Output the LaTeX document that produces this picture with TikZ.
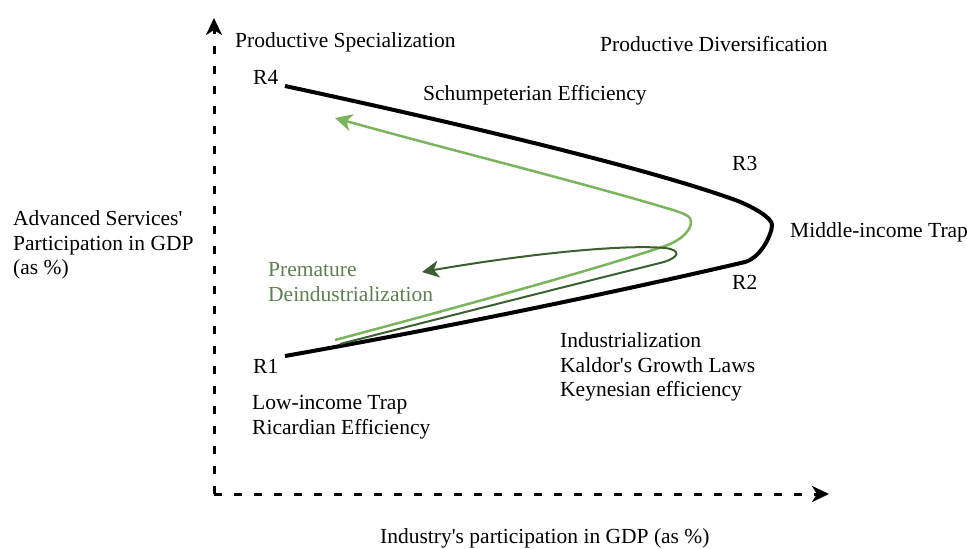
\documentclass[tikz,border=0pt]{standalone}
\usepackage{fontspec}
\setmainfont{Liberation Serif}
\usetikzlibrary{arrows.meta}
\definecolor{lightgreen}{RGB}{122,180,92}
\definecolor{darkgreen}{RGB}{58,96,48}
\definecolor{textgreen}{RGB}{94,128,80}
\begin{document}
\begin{tikzpicture}[x=1pt, y=-1pt,
    lbl/.style={anchor=west, inner sep=0pt, align=left, font=\fontsize{21.5}{24.5}\selectfont},
    axis/.style={line width=3pt, dash pattern=on 8pt off 12pt, -{Stealth[length=17pt,width=16pt,inset=5pt]}},
    tip/.style={-{Stealth[length=17pt,width=17pt,inset=5pt]}}]
      \useasboundingbox (0,0) rectangle (967,549);
      \coordinate (o) at (214,494);
      \coordinate (ytip) at (214,18);
      \coordinate (xtip) at (829,494);
      \draw[axis] (o) -- (ytip);
      \draw[axis] (o) -- (xtip);
      \coordinate (r1pt) at (285,356);
      \coordinate (r4pt) at (285,86);
      \coordinate (vertex) at (772,225);
      \draw[line width=4pt] (r1pt) .. controls (500,318) and (690,275) .. (745,262)
        .. controls (762,257) and (772,233) .. (vertex)
        .. controls (772,218) and (755,208) .. (738,201)
        .. controls (640,165) and (420,115) .. (r4pt);
      \coordinate (gstart) at (335,340);
      \coordinate (gend) at (335,118);
      \draw[lightgreen, line width=2.5pt, tip] (gstart) .. controls (470,304) and (600,268) .. (665,246)
        .. controls (684,239) and (691,229) .. (691,222)
        .. controls (691,216) and (685,214) .. (673,210)
        .. controls (580,182) and (450,150) .. (gend);
      \coordinate (dstart) at (340,344);
      \coordinate (dend) at (422,272);
      \draw[darkgreen, line width=2pt, tip] (dstart) .. controls (480,308) and (600,278) .. (660,263)
        .. controls (680,258) and (682,250) .. (665,248)
        .. controls (620,244) and (520,255) .. (dend);
      \node[lbl] (spec) at (235,42) {Productive Specialization};
      \node[lbl] (divers) at (600,44) {Productive Diversification};
      \node[lbl] (r4) at (253,77) {R4};
      \node[lbl] (schump) at (423,95) {Schumpeterian Efficiency};
      \node[lbl] (r3) at (732,163) {R3};
      \node[lbl] (mit) at (790,232) {Middle-income Trap};
      \node[lbl] (r2) at (732,282) {R2};
      \node[lbl] (ylabel) at (13,245) {Advanced Services\textquotesingle\\Participation in GDP\\(as \%)};
      \node[lbl, text=textgreen] (premature) at (268,282) {Premature\\Deindustrialization};
      \node[lbl] (r1) at (253,366) {R1};
      \node[lbl] (lowinc) at (252,417) {Low-income Trap\\Ricardian Efficiency};
      \node[lbl] (indus) at (560,367) {Industrialization\\Kaldor\textquotesingle s Growth Laws\\Keynesian efficiency};
      \node[lbl] (xlabel) at (380,538) {Industry\textquotesingle s participation in GDP (as \%)};
    \end{tikzpicture}
\end{document}
